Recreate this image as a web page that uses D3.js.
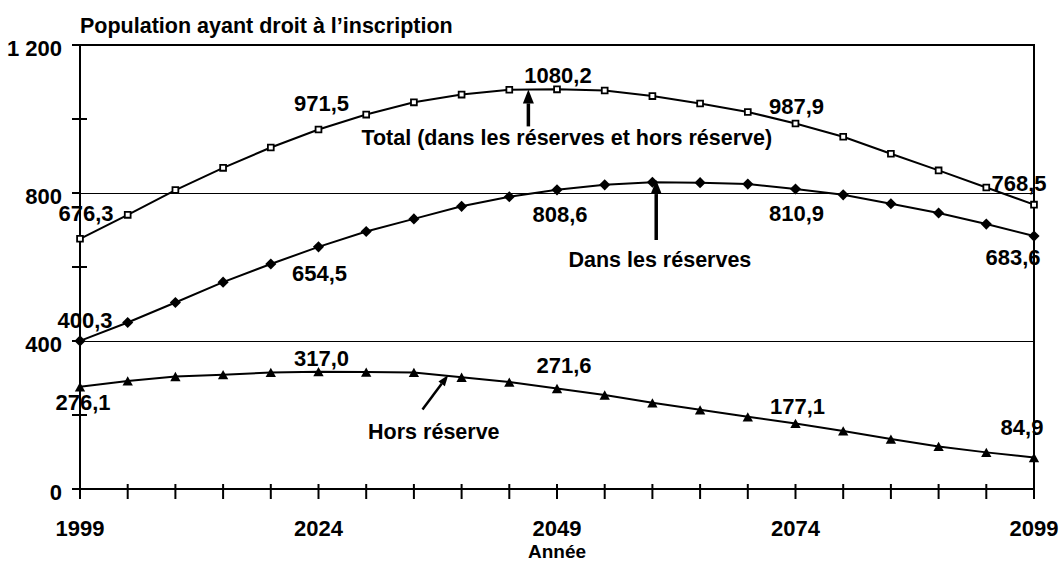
<!DOCTYPE html>
<html>
<head>
<meta charset="utf-8">
<script src="https://cdn.jsdelivr.net/npm/d3@7"></script>
<style>
    body { margin: 0; background: #fff; }
    svg text { font-family: "Liberation Sans", Arial, sans-serif; font-weight: bold; fill: #000; }
</style>
</head>
<body>
<svg id="chart" width="1060" height="562"></svg>
<script>
// données (milliers)
const years = [1999, 2004, 2009, 2014, 2019, 2024, 2029, 2034, 2039, 2044, 2049,
               2054, 2059, 2064, 2069, 2074, 2079, 2084, 2089, 2094, 2099];
const total = [676.3, 741, 808, 868, 923, 971.5, 1012, 1045, 1066, 1079, 1080.2,
               1077, 1062, 1042, 1019, 987.9, 952, 906, 861, 815, 768.5];
const dansReserves = [400.3, 450, 504, 559, 608, 654.5, 696, 730, 764, 790, 808.6,
                      822, 829, 828, 824, 810.9, 795, 771, 746, 716, 683.6];
const horsReserve = [276.1, 292, 304, 309, 315, 317.0, 316, 315, 302, 289, 271.6,
                     254, 233, 214, 195, 177.1, 157, 135, 115, 99, 84.9];

const yTicks = [0, 200, 400, 600, 800, 1000, 1200];
const yTickLabels = {0: "0", 400: "400", 800: "800", 1200: "1 200"};
const xLabelYears = [1999, 2024, 2049, 2074, 2099];
const labelledIdx = [0, 5, 10, 15, 20];

const title = "Population ayant droit à l\u2019inscription";
const xTitle = "Année";

// annotations (en coordonnées de données)
const notes = [
    {text: "Total (dans les réserves et hors réserve)", year: 2028.5, value: 952,
     arrow: [2046, 980, 2046, 1080], w: 3.5, head: [14, 11]},
    {text: "Dans les réserves", year: 2050.2, value: 621,
     arrow: [2059.4, 673, 2059.4, 835], w: 3.5, head: [14, 11]},
    {text: "Hors réserve", year: 2029.2, value: 157,
     arrow: [2034.9, 215, 2037.6, 308], w: 2.5, head: [11, 8]}
];

// décalage des étiquettes de valeurs, par série
const labelOffsets = {
    total: [[6, -26], [3, -26], [1, -14], [1, -17], [-15, -22]],
    dans:  [[5, -21], [1, 26], [3, 24], [1, 24], [-21, 21]],
    hors:  [[3, 15], [3, -14], [7, -23], [2, -17], [-12, -31]]
};

const svg = d3.select("#chart");
const plotLeft = 80, plotRight = 1034, plotTop = 45, plotBottom = 489;

const x = d3.scaleLinear().domain([1999, 2099]).range([plotLeft, plotRight]);
const y = d3.scaleLinear().domain([0, 1200]).range([plotBottom, plotTop]);

// grille (décalée d'un demi-pixel pour un trait net)
svg.append("g")
    .selectAll("line")
    .data([400, 800])
    .join("line")
    .attr("x1", plotLeft).attr("x2", plotRight)
    .attr("y1", d => Math.round(y(d)) + 0.5).attr("y2", d => Math.round(y(d)) + 0.5)
    .attr("stroke", "#000").attr("stroke-width", 1);

// cadre haut et droite
svg.append("path")
    .attr("d", `M${plotLeft},${y(1200)}H${plotRight}V${plotBottom}`)
    .attr("fill", "none").attr("stroke", "#000").attr("stroke-width", 2);

// axe Y
const yAxis = svg.append("g")
    .attr("transform", `translate(${plotLeft},0)`)
    .call(d3.axisLeft(y).tickValues(yTicks).tickSize(8).tickSizeOuter(0).offset(0)
        .tickFormat(d => yTickLabels[d] || ""));
yAxis.select(".domain").attr("stroke-width", 2);
yAxis.selectAll(".tick line").attr("x1", d => yTickLabels[d] ? 0 : 7).attr("stroke-width", 2);
yAxis.selectAll(".tick text")
    .attr("x", -18).attr("dy", "0.48em")
    .style("font-size", "22px");

// axe X
const xAxis = svg.append("g")
    .attr("transform", `translate(0,${plotBottom})`)
    .call(d3.axisBottom(x).tickValues(years).tickSize(10).tickSizeOuter(0).offset(0)
        .tickFormat(d => xLabelYears.includes(d) ? d : ""));
xAxis.select(".domain").attr("stroke-width", 2);
xAxis.selectAll(".tick line").attr("y1", -5).attr("stroke-width", 2);
xAxis.selectAll(".tick text")
    .attr("y", 31.5).attr("dy", "0.71em")
    .style("font-size", "22px");

svg.append("text")
    .attr("x", x(2049)).attr("y", 558)
    .attr("text-anchor", "middle")
    .style("font-size", "19px")
    .text(xTitle);

svg.append("text")
    .attr("x", 80).attr("y", 33)
    .style("font-size", "21.5px")
    .text(title);

// symboles
const diamond = {
    draw(ctx, size) {
        const r = Math.sqrt(size / 2);
        ctx.moveTo(0, -r); ctx.lineTo(r, 0); ctx.lineTo(0, r); ctx.lineTo(-r, 0); ctx.closePath();
    }
};
const triangle = {
    draw(ctx, size) {
        const w = Math.sqrt(size / 0.45), h = 0.9 * w;
        ctx.moveTo(0, -h / 2); ctx.lineTo(w / 2, h / 2); ctx.lineTo(-w / 2, h / 2); ctx.closePath();
    }
};

const line = d3.line()
    .x((d, i) => x(years[i]))
    .y(d => y(d));

const series = [
    {key: "hors", values: horsReserve, symbol: d3.symbol().type(triangle).size(48), fill: "#000", sw: 0},
    {key: "dans", values: dansReserves, symbol: d3.symbol().type(diamond).size(62), fill: "#000", sw: 0},
    {key: "total", values: total, symbol: d3.symbol().type(d3.symbolSquare).size(34), fill: "#fff", sw: 1.8}
];

series.forEach(s => {
    svg.append("path")
        .datum(s.values)
        .attr("fill", "none")
        .attr("stroke", "#000")
        .attr("stroke-width", 2)
        .attr("d", line);

    svg.append("g")
        .selectAll("path")
        .data(s.values)
        .join("path")
        .attr("transform", (d, i) => `translate(${x(years[i])},${y(d)})`)
        .attr("d", s.symbol)
        .attr("fill", s.fill)
        .attr("stroke", "#000")
        .attr("stroke-width", s.sw);

    svg.append("g")
        .selectAll("text")
        .data(labelledIdx)
        .join("text")
        .attr("x", (d, k) => x(years[d]) + labelOffsets[s.key][k][0])
        .attr("y", (d, k) => y(s.values[d]) + labelOffsets[s.key][k][1])
        .attr("dy", "0.36em")
        .attr("text-anchor", "middle")
        .style("font-size", "22px")
        .text(d => s.values[d].toFixed(1).replace(".", ","));
});

// flèches et textes
function arrow(g, x1, y1, x2, y2, w, len, hw) {
    const a = Math.atan2(y2 - y1, x2 - x1);
    const bx = x2 - len * Math.cos(a), by = y2 - len * Math.sin(a);
    const px = Math.sin(a) * hw / 2, py = -Math.cos(a) * hw / 2;
    g.append("line")
        .attr("x1", x1).attr("y1", y1).attr("x2", bx).attr("y2", by)
        .attr("stroke", "#000").attr("stroke-width", w);
    g.append("path")
        .attr("d", `M${x2},${y2}L${bx + px},${by + py}L${bx - px},${by - py}Z`)
        .attr("fill", "#000");
}

const ann = svg.append("g");
notes.forEach(n => {
    const [ax1, av1, ax2, av2] = n.arrow;
    arrow(ann, x(ax1), y(av1), x(ax2), y(av2), n.w, n.head[0], n.head[1]);
    ann.append("text")
        .attr("x", x(n.year))
        .attr("y", y(n.value))
        .attr("dy", "0.36em")
        .style("font-size", "21.5px")
        .text(n.text);
});
</script>
</body>
</html>
